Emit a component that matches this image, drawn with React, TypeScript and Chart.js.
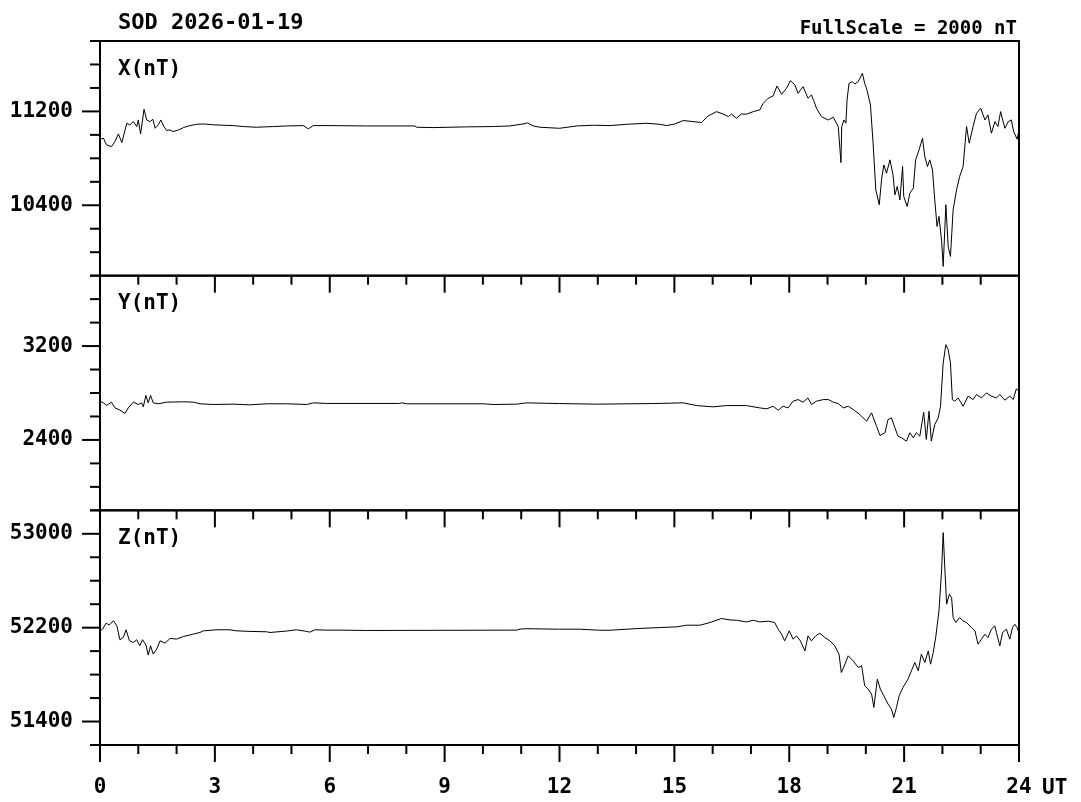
import React, { useEffect, useRef } from 'react';
import { Chart, registerables } from 'chart.js';

Chart.register(...registerables);

// ---------- text ----------
const TITLE = 'SOD 2026-01-19';
const FULL_SCALE = 'FullScale = 2000 nT';
const PANEL_NAMES = ['X(nT)', 'Y(nT)', 'Z(nT)'];
const TIME_UNIT = 'UT';

// ---------- axes ----------
const HOUR_MIN = 0;
const HOUR_MAX = 24;
const HOUR_LABEL_STEP = 3;
const X_RANGE = [9800, 11800];
const Y_RANGE = [1800, 3800];
const Z_RANGE = [51200, 53200];
const X_TICK_LABELS = [10400, 11200];
const Y_TICK_LABELS = [2400, 3200];
const Z_TICK_LABELS = [51400, 52200, 53000];
const MINOR_STEP = 200;

// ---------- data (UT hours, nT) ----------
const X_HOURS = [
  0.0, 0.09, 0.17, 0.3, 0.39, 0.48, 0.57, 0.7, 0.78, 0.87, 0.96, 1.0, 1.06, 1.15, 1.22, 1.31, 1.38, 1.44, 1.52, 1.59,
  1.67, 1.74, 1.83, 1.91, 2.05, 2.18, 2.35, 2.52, 2.7, 3.0, 3.48, 3.74, 4.09, 4.53, 4.87, 5.31, 5.44, 5.57, 6.01, 6.96,
  8.22, 8.27, 8.7, 9.57, 10.27, 10.7, 11.05, 11.17, 11.31, 11.49,
  12.0, 12.45, 12.88, 13.32, 13.75, 14.27, 14.62, 14.8, 15.01, 15.23, 15.49, 15.71, 15.88, 16.1, 16.27, 16.41, 16.49,
  16.62, 16.75, 16.88, 17.06, 17.23, 17.32, 17.45, 17.58, 17.68, 17.8, 17.93, 18.03, 18.15, 18.23, 18.36, 18.49, 18.58,
  18.64, 18.71, 18.84, 18.93, 19.02, 19.15, 19.28, 19.35, 19.37, 19.43, 19.48, 19.51, 19.56, 19.65, 19.71, 19.8, 19.91,
  19.97, 20.03, 20.12, 20.19, 20.26, 20.35, 20.41, 20.47, 20.54, 20.63, 20.71, 20.76, 20.82, 20.89, 20.96, 20.99, 21.08,
  21.15, 21.24, 21.3, 21.39, 21.48, 21.54, 21.61, 21.67, 21.74, 21.8, 21.86, 21.91, 21.98, 22.02, 22.09, 22.15, 22.21,
  22.28, 22.37, 22.45, 22.54, 22.63, 22.7, 22.8, 22.89, 23.0, 23.11, 23.19, 23.28, 23.37, 23.45, 23.52, 23.63, 23.72,
  23.8, 23.86, 23.95, 24.0,
];
const X_VALUES = [
  10963, 10971, 10915, 10900, 10943, 11008, 10934, 11099, 11085, 11113, 11071, 11127, 11008, 11218, 11127, 11113, 11133,
  11056, 11085, 11127, 11071, 11037, 11042, 11028, 11042, 11062, 11079, 11090, 11093, 11085, 11079, 11071, 11065, 11071,
  11076, 11079, 11051, 11079, 11079, 11076, 11076, 11065, 11062, 11068, 11071, 11076, 11093, 11102, 11076, 11065,
  11056, 11076, 11082, 11079, 11090, 11099, 11090, 11079, 11093, 11122, 11113, 11105, 11161, 11198, 11178, 11156, 11178,
  11142, 11178, 11176, 11198, 11212, 11269, 11312, 11332, 11417, 11346, 11397, 11462, 11425, 11354, 11411, 11312, 11340,
  11292, 11227, 11156, 11141, 11127, 11150, 11071, 10764, 11071, 11127, 11099, 11298, 11439, 11454, 11434, 11454, 11525,
  11439, 11383, 11255, 10929, 10532, 10404, 10617, 10744, 10673, 10787, 10659, 10489, 10560, 10446, 10730, 10475, 10390,
  10503, 10546, 10787, 10872, 10971, 10815, 10730, 10787, 10702, 10446, 10220, 10305, 10092, 9879, 10404, 10049, 9964,
  10361, 10532, 10645, 10730, 11071, 10929, 11071, 11184, 11227, 11127, 11170, 11014, 11113, 11071, 11198, 11056, 11113,
  11127, 11028, 10963, 11042,
];

const Y_HOURS = [
  0.0, 0.09, 0.17, 0.3, 0.39, 0.52, 0.65, 0.74, 0.87, 1.0, 1.09, 1.13, 1.2, 1.26, 1.32, 1.39, 1.52, 1.74, 2.18, 2.44,
  2.61, 2.96, 3.48, 3.92, 4.35, 4.87, 5.4, 5.57, 5.92, 7.83, 7.88, 8.01, 10.01, 10.27, 10.88, 11.14,
  12.0, 12.97, 14.45, 15.23, 15.58, 16.01, 16.36, 16.88, 17.23, 17.41, 17.58, 17.71, 17.84, 17.97, 18.1, 18.23, 18.36,
  18.49, 18.58, 18.71, 18.89, 19.02, 19.15, 19.28, 19.41, 19.54, 19.67, 19.84, 20.02, 20.15, 20.28, 20.37, 20.5, 20.58,
  20.67, 20.76, 20.84, 20.93, 21.06, 21.15, 21.24, 21.32, 21.41, 21.51, 21.58, 21.65, 21.71, 21.8, 21.89, 21.95, 22.02,
  22.09, 22.15, 22.21, 22.26, 22.32, 22.41, 22.54, 22.67, 22.8, 22.89, 23.02, 23.15, 23.28, 23.41, 23.5, 23.63, 23.76,
  23.85, 23.93, 24.0,
];
const Y_VALUES = [
  2730, 2716, 2694, 2722, 2674, 2654, 2626, 2674, 2722, 2702, 2716, 2682, 2779, 2716, 2779, 2716, 2708, 2722, 2725, 2722,
  2708, 2702, 2705, 2699, 2708, 2708, 2702, 2716, 2711, 2711, 2716, 2708, 2708, 2702, 2705, 2716,
  2710, 2705, 2710, 2716, 2693, 2682, 2693, 2693, 2673, 2665, 2687, 2653, 2687, 2673, 2730, 2744, 2722, 2758, 2702, 2730,
  2744, 2744, 2722, 2710, 2673, 2687, 2659, 2617, 2560, 2631, 2517, 2438, 2461, 2574, 2588, 2503, 2432, 2418, 2390, 2461,
  2418, 2461, 2432, 2636, 2404, 2645, 2390, 2531, 2588, 2687, 3056, 3212, 3170, 3056, 2744, 2730, 2758, 2687, 2773, 2744,
  2787, 2758, 2801, 2773, 2758, 2787, 2739, 2773, 2744, 2835, 2815,
];

const Z_HOURS = [
  0.0, 0.07, 0.16, 0.24, 0.35, 0.44, 0.52, 0.61, 0.68, 0.77, 0.87, 0.96, 1.04, 1.11, 1.2, 1.26, 1.32, 1.39, 1.48, 1.57,
  1.7, 1.83, 2.0, 2.18, 2.44, 2.61, 2.7, 3.05, 3.39, 3.57, 3.92, 4.35, 4.44, 4.87, 5.13, 5.4, 5.48, 5.61, 5.92, 6.35,
  6.96, 10.88, 10.97, 11.14,
  12.0, 12.53, 13.05, 13.32, 14.01, 14.62, 15.06, 15.32, 15.67, 15.93, 16.23, 16.45, 16.62, 16.88, 17.06, 17.23, 17.45,
  17.62, 17.71, 17.8, 17.88, 18.0, 18.1, 18.19, 18.29, 18.41, 18.49, 18.58, 18.69, 18.8, 18.93, 19.06, 19.19, 19.3,
  19.36, 19.42, 19.54, 19.67, 19.8, 19.89, 19.97, 20.06, 20.15, 20.21, 20.3, 20.38, 20.47, 20.58, 20.67, 20.73, 20.8,
  20.87, 20.97, 21.1, 21.19, 21.28, 21.37, 21.45, 21.54, 21.63, 21.69, 21.76, 21.83, 21.91, 21.98, 22.02, 22.06, 22.11,
  22.18, 22.24, 22.28, 22.35, 22.45, 22.54, 22.63, 22.76, 22.85, 22.93, 23.02, 23.11, 23.19, 23.28, 23.37, 23.41, 23.5,
  23.57, 23.67, 23.76, 23.83, 23.89, 23.95, 24.0,
];
const Z_VALUES = [
  52173, 52188, 52239, 52222, 52259, 52216, 52097, 52117, 52182, 52088, 52074, 52097, 52046, 52097, 52052, 51966, 52046,
  51975, 52017, 52088, 52068, 52108, 52103, 52125, 52145, 52159, 52173, 52182, 52182, 52173, 52168, 52165, 52159, 52171,
  52182, 52168, 52162, 52182, 52179, 52179, 52176, 52179, 52188, 52191,
  52187, 52187, 52178, 52178, 52192, 52201, 52207, 52221, 52221, 52244, 52278, 52266, 52263, 52249, 52263, 52249, 52255,
  52244, 52187, 52144, 52088, 52173, 52102, 52130, 52088, 52002, 52130, 52088, 52130, 52153, 52116, 52088, 52045, 51974,
  51818, 51861, 51960, 51917, 51861, 51875, 51705, 51676, 51634, 51520, 51761, 51676, 51619, 51549, 51506, 51435, 51520,
  51619, 51690, 51761, 51832, 51903, 51832, 51974, 51903, 52002, 51889, 51988, 52130, 52343, 52697, 53010, 52726, 52400,
  52485, 52456, 52286, 52244, 52286, 52258, 52244, 52201, 52173, 52059, 52102, 52144, 52116, 52187, 52215, 52158, 52045,
  52158, 52187, 52102, 52201, 52229, 52201, 52158,
];

// ---------- styling ----------
const FONT = "'DejaVu Sans Mono', monospace";
const INK = '#000000';

const PANELS = [
  { id: 'yX', name: PANEL_NAMES[0], hours: X_HOURS, values: X_VALUES, range: X_RANGE, labels: X_TICK_LABELS },
  { id: 'yY', name: PANEL_NAMES[1], hours: Y_HOURS, values: Y_VALUES, range: Y_RANGE, labels: Y_TICK_LABELS },
  { id: 'yZ', name: PANEL_NAMES[2], hours: Z_HOURS, values: Z_VALUES, range: Z_RANGE, labels: Z_TICK_LABELS },
];

const magPlugin = {
  id: 'magFrame',
  beforeDraw(chart: any) {
    const ctx = chart.ctx;
    ctx.save();
    ctx.fillStyle = '#ffffff';
    ctx.fillRect(0, 0, chart.width, chart.height);
    ctx.restore();
  },
  afterDraw(chart: any) {
    const ctx = chart.ctx;
    const area = chart.chartArea;
    const xs = chart.scales.x;
    ctx.save();
    ctx.strokeStyle = INK;
    ctx.fillStyle = INK;
    ctx.lineWidth = 2;
    const line = (x1: number, y1: number, x2: number, y2: number) => {
      ctx.beginPath();
      ctx.moveTo(x1, y1);
      ctx.lineTo(x2, y2);
      ctx.stroke();
    };
    PANELS.forEach((p) => {
      const s = chart.scales[p.id];
      ctx.strokeRect(area.left, s.top, area.right - area.left, s.bottom - s.top);
      for (let v = p.range[0]; v <= p.range[1]; v += MINOR_STEP) {
        const y = s.getPixelForValue(v);
        const len = p.labels.includes(v) ? 18 : 10;
        line(area.left - len, y, area.left, y);
      }
      for (let h = HOUR_MIN; h <= HOUR_MAX; h++) {
        const x = xs.getPixelForValue(h);
        const len = h % HOUR_LABEL_STEP === 0 ? 17 : 9;
        line(x, s.bottom, x, s.bottom + len);
      }
      ctx.font = `bold 21px ${FONT}`;
      ctx.textAlign = 'left';
      ctx.textBaseline = 'alphabetic';
      ctx.fillText(p.name, area.left + 18, s.top + 33.5);
    });
    ctx.textAlign = 'left';
    ctx.textBaseline = 'alphabetic';
    ctx.font = `bold 22px ${FONT}`;
    ctx.fillText(TITLE, area.left + 18, 29);
    ctx.font = `bold 21px ${FONT}`;
    ctx.fillText(TIME_UNIT, xs.getPixelForValue(HOUR_MAX) + 23, 794);
    ctx.font = `bold 19px ${FONT}`;
    ctx.textAlign = 'right';
    ctx.fillText(FULL_SCALE, area.right - 2, 34);
    ctx.restore();
  },
};

function yScale(p: (typeof PANELS)[number]) {
  return {
    type: 'linear',
    position: 'left',
    stack: 'mag',
    stackWeight: 1,
    min: p.range[0],
    max: p.range[1],
    grid: { drawOnChartArea: false, drawTicks: false },
    border: { display: false },
    ticks: {
      stepSize: MINOR_STEP,
      autoSkip: false,
      padding: 27,
      color: INK,
      font: { family: FONT, size: 21, weight: 'bold' },
      callback: (v: any) => (p.labels.includes(Math.round(Number(v))) ? String(Math.round(Number(v))) : ''),
    },
    afterFit: (s: any) => {
      s.width = 100;
    },
  };
}

export default function App() {
  const ref = useRef<HTMLCanvasElement | null>(null);
  useEffect(() => {
    if (!ref.current) return;
    const chart = new Chart(ref.current, {
      type: 'line',
      data: {
        datasets: PANELS.map((p) => ({
          label: p.name,
          yAxisID: p.id,
          data: p.hours.map((h, i) => ({ x: h, y: p.values[i] })),
          borderColor: INK,
          borderWidth: 1,
          pointRadius: 0,
          tension: 0,
          fill: false,
        })),
      },
      options: {
        animation: false,
        responsive: false,
        devicePixelRatio: 1,
        parsing: false,
        normalized: true,
        layout: { padding: { top: 41, left: 0, right: 62, bottom: 0 } },
        plugins: { legend: { display: false }, tooltip: { enabled: false }, title: { display: false } },
        scales: {
          x: {
            type: 'linear',
            position: 'bottom',
            min: HOUR_MIN,
            max: HOUR_MAX,
            grid: { drawOnChartArea: false, drawTicks: false },
            border: { display: false },
            ticks: {
              stepSize: 1,
              autoSkip: false,
              maxRotation: 0,
              padding: 30,
              color: INK,
              font: { family: FONT, size: 21, weight: 'bold' },
              callback: (v: any) => (Number(v) % HOUR_LABEL_STEP === 0 ? String(v) : ''),
            },
            afterFit: (s: any) => {
              s.height = 57;
            },
          },
          yZ: yScale(PANELS[2]),
          yY: yScale(PANELS[1]),
          yX: yScale(PANELS[0]),
        } as any,
      },
      plugins: [magPlugin],
    } as any);
    return () => chart.destroy();
  }, []);
  return (
    <div style={{ position: 'absolute', left: 0, top: 0, width: 1081, height: 802, background: '#fff' }}>
      <canvas ref={ref} width={1081} height={802} style={{ display: 'block' }} />
    </div>
  );
}
